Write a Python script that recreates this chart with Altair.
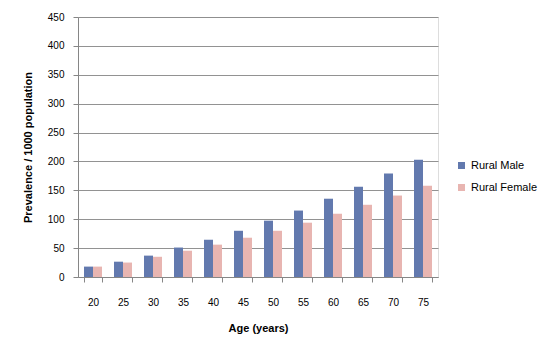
import altair as alt
import pandas as pd

ages = ["20", "25", "30", "35", "40", "45", "50", "55", "60", "65", "70", "75"]
rural_male = [18, 26.5, 37, 51, 64.5, 80, 97.5, 115, 135.5, 156, 179, 203]
rural_female = [18, 25, 35, 45.5, 56, 68, 80, 94, 109.5, 125, 141, 158]
series = ["Rural Male", "Rural Female"]
colors = ["#6279ae", "#e8b5b1"]

rows = []
for a, m, f in zip(ages, rural_male, rural_female):
    rows.append({"age": a, "series": series[0], "value": m})
    rows.append({"age": a, "series": series[1], "value": f})
df = pd.DataFrame(rows)

FONT = "Liberation Sans"
GRAY = "#868686"

chart = alt.Chart(df).mark_bar().encode(
    x=alt.X("age:N", sort=ages, title="Age (years)",
            scale=alt.Scale(paddingInner=0.4, paddingOuter=0.2),
            axis=alt.Axis(labelAngle=0, tickBand="extent", tickSize=5,
                          labelPadding=15, titlePadding=15, domainColor=GRAY,
                          tickColor=GRAY, grid=False)),
    xOffset=alt.XOffset("series:N", sort=series),
    y=alt.Y("value:Q", title="Prevalence / 1000 population",
            scale=alt.Scale(domain=[0, 450]),
            axis=alt.Axis(values=list(range(0, 451, 50)), tickSize=5,
                          labelPadding=9, titlePadding=14, domainColor=GRAY,
                          tickColor=GRAY, gridColor=GRAY, gridOpacity=0.9)),
    color=alt.Color("series:N", sort=series,
                    scale=alt.Scale(domain=series, range=colors),
                    legend=alt.Legend(title=None, orient="none", legendX=378, legendY=143,
                                      symbolType="square", symbolSize=49,
                                      rowPadding=10, labelOffset=4,
                                      labelFontSize=11, labelFont=FONT,
                                      symbolStrokeWidth=0)),
).properties(
    width=360, height=260,
    autosize=alt.AutoSizeParams(type="none"),
    padding={"left": 78, "top": 17, "right": 118, "bottom": 74},
).configure_view(stroke=None).configure_axis(
    labelFont=FONT, titleFont=FONT, labelFontSize=11, titleFontSize=11,
    labelColor="#000000", titleColor="#000000", titleFontWeight="bold",
).configure(background="white")

chart.save("out.html", embed_options={"renderer": "svg", "actions": False})
